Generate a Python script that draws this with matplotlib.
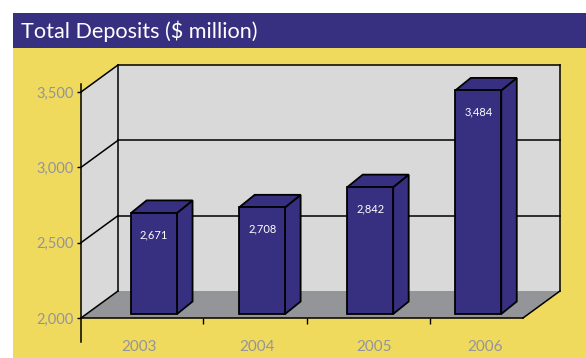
import matplotlib.pyplot as plt
import numpy as np
from matplotlib.patches import Rectangle, Polygon
from matplotlib.transforms import Affine2D, IdentityTransform

# Total deposits by year ($ million)
years = ["2003", "2004", "2005", "2006"]
deposits = [2671, 2708, 2842, 3484]
value_labels = ["2,671", "2,708", "2,842", "3,484"]
y_ticks = [2000, 2500, 3000, 3500]
y_tick_labels = ["2,000", "2,500", "3,000", "3,500"]

# tick marks and year labels sit where the original artwork put them
x_tick_marks = [0.50, 1.46, 2.60]
year_label_pos = [-0.09, 1.0, 2.08, 3.11]

PURPLE = "#372f7f"
YELLOW = "#f0da5e"
WALL = "#d9d9d9"
FLOOR = "#939598"
GREY_TEXT = "#94949a"

plt.rcParams["font.family"] = ["Lato", "DejaVu Sans"]

W, H = 586, 358
fig = plt.figure(figsize=(W / 100, H / 100), dpi=100)
fig.patch.set_facecolor("white")

# yellow panel with the purple title band on top
fig.patches.append(Rectangle((13 / W, 0), 1 - 13 / W, (H - 48) / H,
                             transform=fig.transFigure, facecolor=YELLOW, zorder=-10))
fig.patches.append(Rectangle((13 / W, (H - 48) / H), 1 - 13 / W, 35 / H,
                             transform=fig.transFigure, facecolor=PURPLE, zorder=-10))
fig.text(21 / W, 1 - 31 / H, "Total Deposits ($ million)", color="white",
         fontsize=15.6, ha="left", va="center")

# front plane of the 3-D box
ax = fig.add_axes([81 / W, (H - 318) / H, (523 - 81) / W, (318 - 92) / H])
ax.set_xlim(-0.63, 3.46)
ax.set_ylim(2000, 3500)
ax.patch.set_visible(False)
for side in ["left", "right", "top"]:
    ax.spines[side].set_visible(False)
ax.spines["bottom"].set_linewidth(1.1)
ax.spines["bottom"].set_zorder(6)

# depth offsets in pixels (right, up)
DEPTH = np.array([37.0, 27.0])
BAR_FRONT = np.array([5.0, 4.0])
BAR_DEPTH = np.array([15.5, 12.5])
BW = 0.425

x0, x1 = ax.get_xlim()
ymin, ymax = ax.get_ylim()


def px(x, y, shift=(0, 0)):
    return ax.transData.transform((x, y)) + np.asarray(shift)


def face(points, color, z, **kw):
    ax.add_patch(Polygon(points, closed=True, facecolor=color, transform=IdentityTransform(),
                         clip_on=False, zorder=z, **kw))


def line(points, z=3, lw=1.1):
    pts = np.array(points)
    ax.plot(pts[:, 0], pts[:, 1], color="black", lw=lw, transform=IdentityTransform(),
            clip_on=False, zorder=z, solid_capstyle="projecting")


# walls and floor
face([px(x0, ymin, DEPTH), px(x1, ymin, DEPTH), px(x1, ymax, DEPTH), px(x0, ymax, DEPTH)],
     WALL, 1, edgecolor="none")
face([px(x0, ymin), px(x0, ymax), px(x0, ymax, DEPTH), px(x0, ymin, DEPTH)],
     WALL, 1, edgecolor="none")
face([px(x0, ymin), px(x1, ymin), px(x1, ymin, DEPTH), px(x0, ymin, DEPTH)],
     FLOOR, 2, edgecolor="none")

# gridlines running along the side wall and across the back wall
for v in y_ticks:
    line([px(x0, v), px(x0, v, DEPTH)])
    if v > ymin:
        line([px(x0, v, DEPTH), px(x1, v, DEPTH)])
line([px(x0, ymin, DEPTH), px(x0, ymax, DEPTH)])
line([px(x1, ymin, DEPTH), px(x1, ymax, DEPTH)])
line([px(x1, ymin), px(x1, ymin, DEPTH)])

# front y axis line reaching below the floor
ax.plot([0, 0], [-0.106, 1.035], transform=ax.transAxes, color="black", lw=1.1,
        clip_on=False, zorder=6)

# bars: front faces through ax.bar, then side and top faces behind them
bars = ax.bar(range(len(years)), [d - ymin for d in deposits], bottom=ymin, width=BW,
              color=PURPLE, edgecolor="black", linewidth=1.3, zorder=5)
for i, (bar, val) in enumerate(zip(bars, deposits)):
    bar.set_transform(ax.transData + Affine2D().translate(*BAR_FRONT))
    bar.set_clip_on(False)
    left, right = i - BW / 2, i + BW / 2
    face([px(right, ymin, BAR_FRONT), px(right, val, BAR_FRONT),
          px(right, val, BAR_FRONT + BAR_DEPTH), px(right, ymin, BAR_FRONT + BAR_DEPTH)],
         PURPLE, 4, edgecolor="black", linewidth=1.3)
    face([px(left, val, BAR_FRONT), px(right, val, BAR_FRONT),
          px(right, val, BAR_FRONT + BAR_DEPTH), px(left, val, BAR_FRONT + BAR_DEPTH)],
         PURPLE, 4, edgecolor="black", linewidth=1.3)
    ax.annotate(value_labels[i], xy=(i, val), xytext=(BAR_FRONT[0], BAR_FRONT[1] - 22),
                textcoords="offset pixels", ha="center", va="center", color="white",
                fontsize=8, zorder=7)

# axis ticks and labels
ax.set_yticks(y_ticks, y_tick_labels)
ax.tick_params(axis="y", direction="out", length=3, width=1, color="black",
               labelcolor=GREY_TEXT, labelsize=10.5, pad=2)
ax.set_xticks(x_tick_marks)
ax.set_xticks(year_label_pos, years, minor=True)
ax.tick_params(axis="x", which="major", direction="out", length=4.5, width=1,
               color="black", labelbottom=False)
ax.tick_params(axis="x", which="minor", length=0, labelcolor=GREY_TEXT,
               labelsize=11, pad=16)

fig.savefig("out.png", dpi=100)
